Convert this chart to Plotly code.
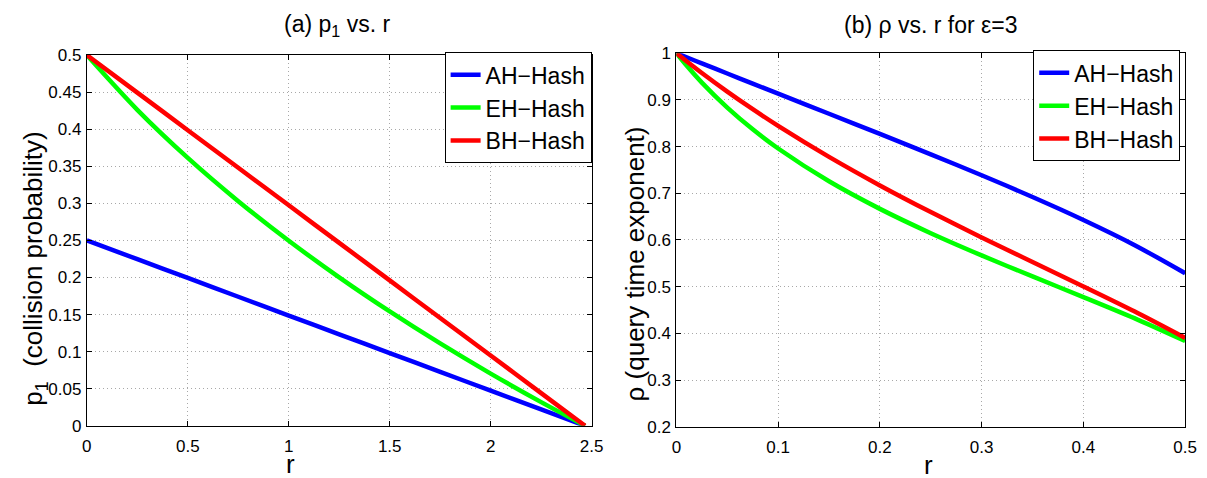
import plotly.graph_objects as go

# ---- (a) collision probability p1 versus r ----
r_left = [0, 0.25, 0.5, 0.75, 1.0, 1.25, 1.5, 1.75, 2.0, 2.25, 2.4674]
p1_ah = [0.25, 0.22467, 0.19934, 0.17401, 0.14868, 0.12335, 0.09802, 0.07269, 0.04736, 0.02203, 0.0]
p1_eh = [0.5, 0.42618, 0.36132, 0.30294, 0.24957, 0.20021, 0.15420, 0.11103, 0.07034, 0.03186, 0.0]
p1_bh = [0.5, 0.44934, 0.39868, 0.34802, 0.29736, 0.24670, 0.19604, 0.14538, 0.09472, 0.04406, 0.0]

# ---- (b) query time exponent rho versus r (epsilon = 3) ----
r_right = [0, 0.01, 0.025, 0.05, 0.075, 0.1, 0.15, 0.2, 0.25, 0.3, 0.35, 0.4, 0.45, 0.5]
rho_ah = [1.0, 0.99124, 0.97816, 0.95645, 0.93485, 0.91332, 0.87032, 0.82715, 0.78339,
          0.73858, 0.69205, 0.64283, 0.58937, 0.52877]
rho_eh = [1.0, 0.97343, 0.93692, 0.88333, 0.83685, 0.79583, 0.72559, 0.66653, 0.61447,
          0.56691, 0.52190, 0.47771, 0.43247, 0.38352]
rho_bh = [1.0, 0.98269, 0.95754, 0.91763, 0.87996, 0.84426, 0.77783, 0.71672, 0.65960,
          0.60528, 0.55263, 0.50042, 0.44710, 0.39018]

names = ["AH\u2212Hash", "EH\u2212Hash", "BH\u2212Hash"]
colors = ["#0000FF", "#00FF00", "#FF0000"]

left_x_ticks = [0, 0.5, 1, 1.5, 2, 2.5]
left_x_text = ["0", "0.5", "1", "1.5", "2", "2.5"]
left_y_ticks = [0, 0.05, 0.1, 0.15, 0.2, 0.25, 0.3, 0.35, 0.4, 0.45, 0.5]
left_y_text = ["0", "0.05", "0.1", "0.15", "0.2", "0.25", "0.3", "0.35", "0.4", "0.45", "0.5"]
right_x_ticks = [0, 0.1, 0.2, 0.3, 0.4, 0.5]
right_x_text = ["0", "0.1", "0.2", "0.3", "0.4", "0.5"]
right_y_ticks = [0.2, 0.3, 0.4, 0.5, 0.6, 0.7, 0.8, 0.9, 1.0]
right_y_text = ["0.2", "0.3", "0.4", "0.5", "0.6", "0.7", "0.8", "0.9", "1"]

W, H = 1207, 478
FONT = "Liberation Sans, Arial, Helvetica, sans-serif"

fig = go.Figure()

for name, col, ys in zip(names, colors, [p1_ah, p1_eh, p1_bh]):
    fig.add_trace(go.Scatter(
        x=r_left, y=ys, mode="lines", name=name,
        line=dict(color=col, width=4.5, shape="spline", smoothing=0.8),
        xaxis="x", yaxis="y", legend="legend",
    ))

for name, col, ys in zip(names, colors, [rho_ah, rho_eh, rho_bh]):
    fig.add_trace(go.Scatter(
        x=r_right, y=ys, mode="lines", name=name,
        line=dict(color=col, width=4.5, shape="spline", smoothing=0.8),
        xaxis="x2", yaxis="y2", legend="legend2",
    ))


def px_x(p):
    return p / W


def px_y(p):
    return (H - p) / H


axis_common = dict(
    showline=True, linecolor="black", linewidth=1, mirror="ticks",
    ticks="inside", ticklen=5, tickcolor="black",
    showgrid=True, gridcolor="#a8a8a8", gridwidth=1, griddash="1px,3px",
    zeroline=False, tickfont=dict(family=FONT, size=17, color="black"),
)
x_common = dict(axis_common, ticklabelstandoff=5)
y_common = dict(axis_common, ticklabelstandoff=1)

legend_common = dict(
    xanchor="right", yanchor="top",
    bgcolor="white", bordercolor="black", borderwidth=1,
    font=dict(family=FONT, size=23, color="black"),
    tracegroupgap=0, itemwidth=30,
)

fig.update_layout(
    width=W, height=H,
    margin=dict(l=0, r=0, t=0, b=0),
    paper_bgcolor="white", plot_bgcolor="white",
    font=dict(family=FONT, color="black"),
    xaxis=dict(domain=[px_x(83), px_x(595)], range=[0, 2.5], anchor="y",
               tickvals=left_x_ticks, ticktext=left_x_text, **x_common),
    yaxis=dict(domain=[px_y(434), px_y(48)], range=[0, 0.5], anchor="x",
               tickvals=left_y_ticks, ticktext=left_y_text, **y_common),
    xaxis2=dict(domain=[px_x(681), px_x(1197)], range=[0, 0.5], anchor="y2",
                tickvals=right_x_ticks, ticktext=right_x_text, **x_common),
    yaxis2=dict(domain=[px_y(435), px_y(46)], range=[0.2, 1.0], anchor="x2",
                tickvals=right_y_ticks, ticktext=right_y_text, **y_common),
    legend=dict(x=px_x(595), y=px_y(45), **legend_common),
    legend2=dict(x=px_x(1192), y=px_y(43), **legend_common),
    showlegend=True,
)

label_font = dict(family=FONT, size=26, color="black")
title_font = dict(family=FONT, size=23, color="black")
annotations = [
    dict(text="(a) p<sub>1</sub> vs. r", x=px_x(337), y=px_y(17), font=title_font,
         yanchor="middle"),
    dict(text="(b) \u03c1 vs. r for \u03b5=3", x=px_x(939), y=px_y(17), font=title_font,
         yanchor="middle"),
    dict(text="r", x=px_x(290), y=px_y(492), font=label_font, yanchor="bottom"),
    dict(text="r", x=px_x(937), y=px_y(493), font=label_font, yanchor="bottom"),
    dict(text="p<sub>1</sub>  (collision probability)", x=px_x(30), y=px_y(270),
         textangle=-90, font=label_font, yanchor="middle"),
    dict(text="\u03c1 (query time exponent)", x=px_x(639), y=px_y(266),
         textangle=-90, font=label_font, yanchor="middle"),
]
for a in annotations:
    fig.add_annotation(xref="paper", yref="paper", showarrow=False,
                       xanchor="center", **a)

fig.write_html("out.html")
